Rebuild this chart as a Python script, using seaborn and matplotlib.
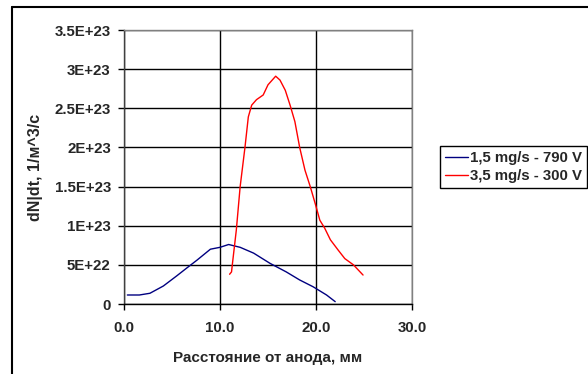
import matplotlib
matplotlib.use("Agg")
import matplotlib.pyplot as plt
from matplotlib.lines import Line2D
import seaborn as sns
import pandas as pd

# Series 1: 1,5 mg/s - 790 V
x_low = [0.35, 1.6, 2.7, 4.1, 5.5, 6.5, 7.6, 9.0, 10.0, 10.9, 12.1, 13.5,
         15.2, 16.9, 18.3, 19.7, 21.1, 22.0]
y_low = [1.15e22, 1.15e22, 1.37e22, 2.3e22, 3.6e22, 4.56e22, 5.6e22, 7.0e22,
         7.24e22, 7.6e22, 7.24e22, 6.5e22, 5.2e22, 4.1e22, 3.07e22, 2.2e22,
         1.15e22, 3.0e21]

# Series 2: 3,5 mg/s - 300 V
x_high = [11.0, 11.2, 11.3, 11.7, 12.1, 12.6, 12.95, 13.3, 13.8, 14.5, 15.0,
          15.8, 16.25, 16.8, 17.3, 17.8, 18.3, 18.85, 19.4, 19.9, 20.4, 20.9,
          21.5, 22.3, 23.0, 23.9, 24.9]
y_high = [3.8e22, 4.1e22, 5.2e22, 9.45e22, 1.5e23, 2.0e23, 2.39e23, 2.54e23,
          2.61e23, 2.67e23, 2.8e23, 2.91e23, 2.86e23, 2.73e23, 2.54e23,
          2.33e23, 2.0e23, 1.71e23, 1.5e23, 1.29e23, 1.07e23, 9.7e22, 8.2e22,
          6.9e22, 5.8e22, 5.0e22, 3.7e22]

series_names = ["1,5 mg/s - 790 V", "3,5 mg/s - 300 V"]
series_colors = ["#000080", "#ff0000"]

x_ticks = [0, 10, 20, 30]
x_tick_labels = ["0.0", "10.0", "20.0", "30.0"]
y_ticks = [0, 5e22, 1e23, 1.5e23, 2e23, 2.5e23, 3e23, 3.5e23]
y_tick_labels = ["0", "5E+22", "1E+23", "1.5E+23", "2E+23", "2.5E+23",
                 "3E+23", "3.5E+23"]

x_title = "Расстояние от анода, мм"
y_title = "dN|dt, 1/м^3/с"

df = pd.concat([
    pd.DataFrame({"x": x_low, "y": y_low, "series": series_names[0]}),
    pd.DataFrame({"x": x_high, "y": y_high, "series": series_names[1]}),
], ignore_index=True)

sns.set_style("white")
plt.rcParams["font.family"] = ["Liberation Sans", "DejaVu Sans"]
plt.rcParams["font.weight"] = "bold"

W, H = 588, 374
fig = plt.figure(figsize=(W / 100, H / 100), dpi=100)
ax = fig.add_axes([124 / W, 1 - 304 / H, (412 - 124) / W, (304 - 30) / H])

sns.lineplot(data=df, x="x", y="y", hue="series", hue_order=series_names,
             palette=series_colors, sort=False, estimator=None, lw=1.0,
             ax=ax, legend=False)

tick_fs = 10.8
ax.set_xlim(0, 30)
ax.set_ylim(0, 3.5e23)
ax.set_xticks(x_ticks)
ax.set_xticklabels(x_tick_labels, fontsize=tick_fs, fontweight="bold")
ax.set_yticks(y_ticks)
ax.set_yticklabels(y_tick_labels, fontsize=tick_fs, fontweight="bold")
ax.grid(True, color="black", lw=1.0)
ax.set_axisbelow(True)
ax.tick_params(axis="both", direction="out", length=4.5, width=1,
               color="black", left=True, bottom=True)
ax.tick_params(axis="y", pad=5)
ax.tick_params(axis="x", pad=8)

for side in ["top", "right"]:
    ax.spines[side].set_color("#808080")
    ax.spines[side].set_linewidth(1.0)
ax.spines["left"].set_color("#404040")
ax.spines["bottom"].set_color("black")
for side in ["left", "bottom"]:
    ax.spines[side].set_linewidth(1.0)

ax.set_xlabel(x_title, fontsize=11, fontweight="bold", labelpad=11)
ax.set_ylabel(y_title, fontsize=11.5, fontweight="bold", labelpad=8)

handles = [Line2D([0], [0], color=c, lw=1.0) for c in series_colors]
leg = fig.legend(handles, series_names, loc="center left",
                 bbox_to_anchor=(440 / W, 1 - 167 / H), frameon=True,
                 fancybox=False, framealpha=1, edgecolor="black",
                 prop={"size": 10.8, "weight": "bold"}, handlelength=1.55,
                 handletextpad=0.15, borderpad=0.3, labelspacing=0.3,
                 borderaxespad=0)
leg.get_frame().set_linewidth(1.0)

# outer chart frame (top and left edges)
fig.add_artist(Line2D([12 / W, 1.0], [1 - 7 / H, 1 - 7 / H],
                      transform=fig.transFigure, color="black", lw=1.5))
fig.add_artist(Line2D([12 / W, 12 / W], [1 - 7 / H, 0.0],
                      transform=fig.transFigure, color="black", lw=1.5))

fig.savefig("out.png", dpi=100)
